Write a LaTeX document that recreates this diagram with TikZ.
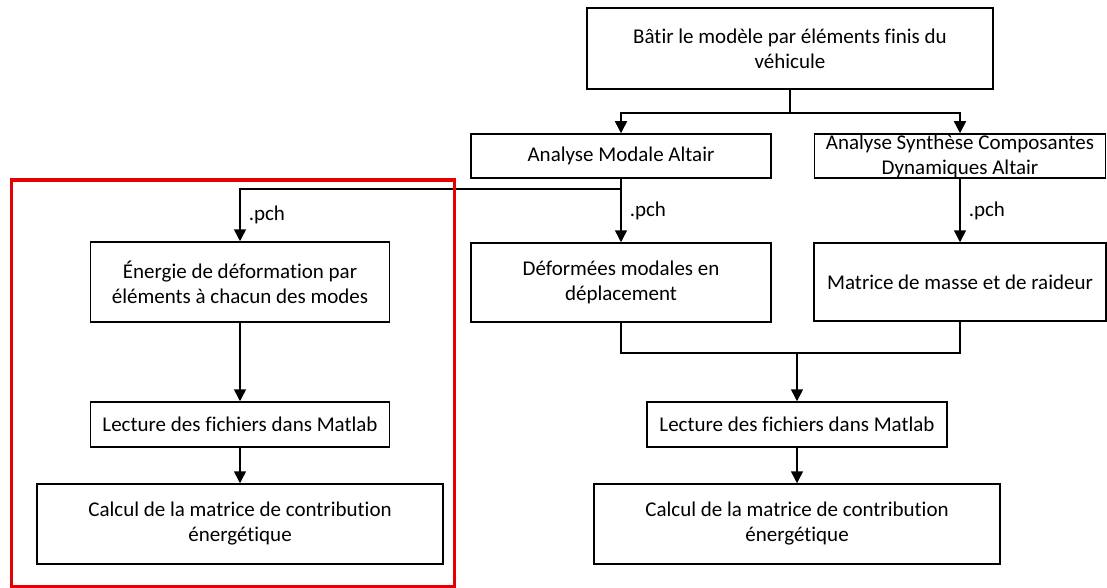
\documentclass[tikz,border=0pt]{standalone}
\usepackage{fontspec}
\setmainfont{Carlito}[Ligatures=CommonOff]
\usepackage{xcolor}
\usetikzlibrary{arrows.meta}
\definecolor{cadre}{RGB}{228,0,0}

\tikzset{
bloc/.style={draw=black, line width=1.5pt, align=center, inner sep=0pt, font=\fontsize{21}{25}\selectfont},
lien/.style={line width=1.5pt},
fleche/.style={line width=1.5pt, -{Triangle[length=12pt,width=12pt]}},
ext/.style={right, xshift=8pt, inner sep=0pt, font=\fontsize{21}{25}\selectfont}
}

\begin{document}
\begin{tikzpicture}[x=1pt,y=-1pt]
\useasboundingbox (0,0) rectangle (1107,588);

\node[bloc, minimum width=406pt, minimum height=81pt] (modele) at (790,48.5) {Bâtir le modèle par éléments finis du\\véhicule};
\node[bloc, minimum width=300pt, minimum height=44pt] (modale) at (621,156) {Analyse Modale Altair};
\node[bloc, minimum width=291pt, minimum height=44pt] (synthese) at (960,156) {Analyse Synthèse Composantes\\Dynamiques Altair};
\node[bloc, minimum width=299pt, minimum height=80pt] (energie) at (240,282) {Énergie de déformation par\\éléments à chacun des modes};
\node[bloc, minimum width=300pt, minimum height=79pt] (deformees) at (621,282.5) {Déformées modales en\\déplacement};
\node[bloc, minimum width=292pt, minimum height=78pt] (matrices) at (960,282) {Matrice de masse et de raideur};
\node[bloc, minimum width=299pt, minimum height=45pt] (lectA) at (240,424.5) {Lecture des fichiers dans Matlab};
\node[bloc, minimum width=300pt, minimum height=45pt] (lectB) at (797,424.5) {Lecture des fichiers dans Matlab};
\node[bloc, minimum width=406pt, minimum height=80pt] (calcA) at (240,524) {Calcul de la matrice de contribution\\énergétique};
\node[bloc, minimum width=406pt, minimum height=80pt] (calcB) at (797,524) {Calcul de la matrice de contribution\\énergétique};

% branches du haut
\coordinate (fourche) at (790,113);
\draw[lien] (modele.south) -- (fourche);
\draw[fleche] (fourche) -| (modale.north);
\draw[fleche] (fourche) -| (synthese.north);

% sorties .pch
\coordinate (piquage) at (621,189);
\draw[fleche] (modale.south) -- (deformees.north) node[ext, midway] {.pch};
\draw[fleche] (piquage) -| (energie.north) node[ext, pos=0.75] {.pch};
\draw[fleche] (synthese.south) -- (matrices.north) node[ext, midway] {.pch};

% jonction vers Matlab
\coordinate (jonction) at (797,353);
\draw[lien] (deformees.south) |- (jonction) -| (matrices.south);
\draw[fleche] (jonction) -- (lectB.north);
\draw[fleche] (lectB.south) -- (calcB.north);

\draw[fleche] (energie.south) -- (lectA.north);
\draw[fleche] (lectA.south) -- (calcA.north);

\draw[cadre, line width=3pt] (11,180) rectangle (454,586);
\end{tikzpicture}
\end{document}
